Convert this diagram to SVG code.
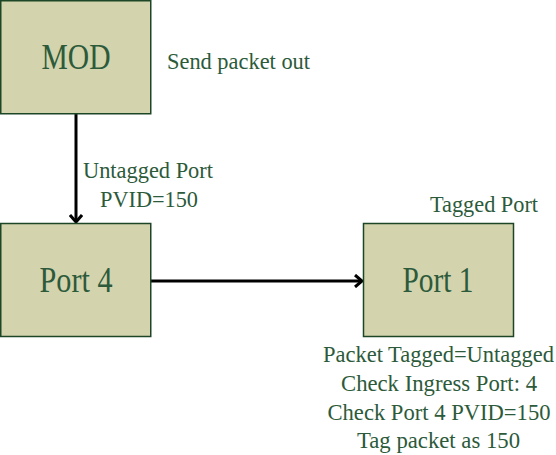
<svg xmlns="http://www.w3.org/2000/svg" width="556" height="455" viewBox="0 0 556 455">
<style>
.box{fill:#d3d3ad;stroke:#1c4626;stroke-width:1.5}
.big{font-family:"Liberation Serif","Times New Roman",serif;font-size:36px;fill:#2c5a3a;text-anchor:middle}
.lbl{font-family:"Liberation Serif","Times New Roman",serif;font-size:24px;fill:#2c5a3a}
.note{font-family:"Liberation Serif","Times New Roman",serif;font-size:22.5px;fill:#2c5a3a;text-anchor:middle}
.con{stroke:#000;stroke-width:3;fill:none}
</style>
<defs>
<marker id="arr" markerWidth="12" markerHeight="14" refX="9" refY="7" orient="auto" markerUnits="userSpaceOnUse">
<path d="M2,1 L9,7 L2,13" fill="none" stroke="#000" stroke-width="3"/>
</marker>
</defs>
<rect width="556" height="455" fill="#fff"/>
<g id="connectors">
<line class="con" x1="76" y1="114" x2="76" y2="222" marker-end="url(#arr)"/>
<line class="con" x1="151" y1="281" x2="362" y2="281" marker-end="url(#arr)"/>
</g>
<g id="mod">
<rect class="box" x="0.75" y="0.75" width="150" height="113"/>
<text class="big" x="76" y="69" textLength="69" lengthAdjust="spacingAndGlyphs">MOD</text>
</g>
<g id="port4">
<rect class="box" x="0.75" y="223.5" width="150" height="113"/>
<text class="big" x="76" y="292" textLength="73" lengthAdjust="spacingAndGlyphs">Port 4</text>
</g>
<g id="port1">
<rect class="box" x="363.5" y="223.5" width="150" height="113"/>
<text class="big" x="438" y="292" textLength="71" lengthAdjust="spacingAndGlyphs">Port 1</text>
</g>
<g id="labels">
<text class="lbl" x="167" y="69" textLength="143" lengthAdjust="spacingAndGlyphs">Send packet out</text>
<text class="lbl" x="83" y="178" textLength="130" lengthAdjust="spacingAndGlyphs">Untagged Port</text>
<text class="lbl" x="100" y="207" textLength="98" lengthAdjust="spacingAndGlyphs">PVID=150</text>
<text class="lbl" x="430" y="212" textLength="108" lengthAdjust="spacingAndGlyphs">Tagged Port</text>
<text class="note" x="438.5" y="362" textLength="231" lengthAdjust="spacingAndGlyphs">Packet Tagged=Untagged</text>
<text class="note" x="439" y="391" textLength="196" lengthAdjust="spacingAndGlyphs">Check Ingress Port: 4</text>
<text class="note" x="439" y="420" textLength="223" lengthAdjust="spacingAndGlyphs">Check Port 4 PVID=150</text>
<text class="note" x="438.5" y="448" textLength="163" lengthAdjust="spacingAndGlyphs">Tag packet as 150</text>
</g>
</svg>
